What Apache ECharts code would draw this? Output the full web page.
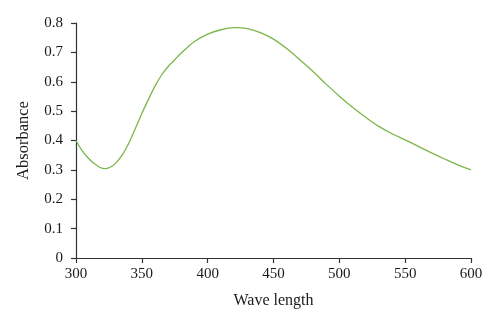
<!DOCTYPE html>
<html>
<head>
<meta charset="utf-8">
<script src="https://cdn.jsdelivr.net/npm/echarts@6/dist/echarts.min.js"></script>
<style>
  html, body { margin: 0; padding: 0; background: #fff; }
  #chart { width: 500px; height: 330px; }
</style>
</head>
<body>
<div id="chart"></div>
<script>
// Absorption spectrum: wavelength (nm) and absorbance
const wavelengths = [300, 305, 310, 314, 318, 322, 326, 330, 335, 340, 345, 350, 355, 360, 365, 370, 375, 380, 390, 400, 410, 420, 430, 440, 450, 460, 470, 480, 490, 500, 510, 520, 530, 540, 550, 560, 570, 580, 590, 600];
const absorbance = [0.400, 0.363, 0.337, 0.321, 0.309, 0.304, 0.309, 0.322, 0.350, 0.390, 0.440, 0.492, 0.540, 0.585, 0.623, 0.652, 0.675, 0.698, 0.737, 0.762, 0.777, 0.784, 0.781, 0.767, 0.745, 0.713, 0.675, 0.635, 0.592, 0.551, 0.513, 0.479, 0.448, 0.423, 0.402, 0.380, 0.358, 0.337, 0.317, 0.300];

const xTitle = 'Wave length';
const yTitle = 'Absorbance';

const points = wavelengths.map((w, i) => [w, absorbance[i]]);

const font = 'Liberation Serif, DejaVu Serif, serif';
const axisColor = '#333';

const chart = echarts.init(document.getElementById('chart'), null, { renderer: 'canvas' });
chart.setOption({
  animation: false,
  backgroundColor: '#fff',
  grid: { left: 76, right: 29, top: 23, bottom: 72, containLabel: false },
  xAxis: {
    type: 'value',
    min: 300, max: 600, interval: 50,
    name: xTitle,
    nameLocation: 'middle',
    nameGap: 35,
    nameTextStyle: { fontFamily: font, fontSize: 16, color: '#1a1a1a' },
    axisLine: { onZero: false, lineStyle: { color: axisColor, width: 1.2 } },
    axisTick: { show: true, length: 5, lineStyle: { color: axisColor, width: 1.2 } },
    axisLabel: { fontFamily: font, fontSize: 15, color: '#1a1a1a', margin: 9 },
    splitLine: { show: false }
  },
  yAxis: {
    type: 'value',
    min: 0, max: 0.8, interval: 0.1,
    name: yTitle,
    nameLocation: 'middle',
    nameGap: 44,
    nameTextStyle: { fontFamily: font, fontSize: 16.5, color: '#1a1a1a' },
    axisLine: { show: true, lineStyle: { color: axisColor, width: 1.2 } },
    axisTick: { show: true, length: 5, lineStyle: { color: axisColor, width: 1.2 } },
    axisLabel: {
      fontFamily: font, fontSize: 15, color: '#1a1a1a', margin: 13,
      formatter: v => (v === 0 ? '0' : v.toFixed(1))
    },
    splitLine: { show: false }
  },
  series: [{
    type: 'line',
    data: points,
    smooth: 0.35,
    showSymbol: false,
    lineStyle: { color: '#7ab648', width: 1.3 }
  }]
});
</script>
</body>
</html>
